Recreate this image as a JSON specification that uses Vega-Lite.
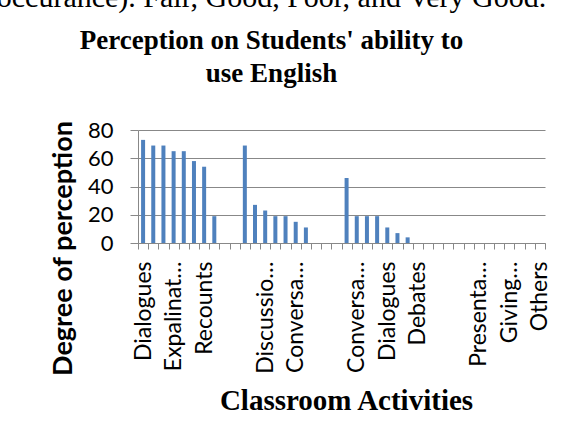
{
  "$schema": "https://vega.github.io/schema/vega-lite/v6.json",
  "autosize": "none",
  "width": 407,
  "height": 113,
  "padding": {"left": 138, "top": 130, "right": 18, "bottom": 193},
  "background": "white",
  "title": {
    "text": "occurance). Fair, Good, Poor, and Very Good.",
    "subtitle": ["Perception on Students' ability to", "use English"],
    "font": "Liberation Serif",
    "fontSize": 30,
    "fontWeight": "normal",
    "color": "black",
    "subtitleFont": "Liberation Serif",
    "subtitleFontSize": 27,
    "subtitleFontWeight": "bold",
    "subtitleColor": "black",
    "subtitleLineHeight": 33,
    "subtitlePadding": 15,
    "anchor": "middle",
    "frame": "group",
    "dx": -70,
    "offset": 32
  },
  "data": {
    "values": [
      {"item": "Fair|Dialogues", "value": 73},
      {"item": "Fair|Role plays", "value": 69},
      {"item": "Fair|Descriptions", "value": 69},
      {"item": "Fair|Expalinat…", "value": 65},
      {"item": "Fair|Narratives", "value": 65},
      {"item": "Fair|Discussions", "value": 58},
      {"item": "Fair|Recounts", "value": 54},
      {"item": "Fair|Conversations", "value": 19},
      {"item": "Fair|Debates", "value": 0},
      {"item": "Fair|", "value": 0},
      {"item": "Good|Explanations", "value": 69},
      {"item": "Good|Role plays", "value": 27},
      {"item": "Good|Discussio…", "value": 23},
      {"item": "Good|Descriptions", "value": 19},
      {"item": "Good|Recounts", "value": 19},
      {"item": "Good|Conversa…", "value": 15},
      {"item": "Good|Narratives", "value": 11},
      {"item": "Good|Dialogues", "value": 0},
      {"item": "Good|", "value": 0},
      {"item": "Good|Debates", "value": 0},
      {"item": "Poor|Discussions", "value": 46},
      {"item": "Poor|Conversa…", "value": 19},
      {"item": "Poor|Role plays", "value": 19},
      {"item": "Poor|Recounts", "value": 19},
      {"item": "Poor|Dialogues", "value": 11},
      {"item": "Poor|Narratives", "value": 7},
      {"item": "Poor|Explanations", "value": 4},
      {"item": "Poor|Debates", "value": 0},
      {"item": "Poor|Descriptions", "value": 0},
      {"item": "Poor|Others", "value": 0},
      {"item": "Very Good|", "value": 0},
      {"item": "Very Good|Dialogues", "value": 0},
      {"item": "Very Good|Role plays", "value": 0},
      {"item": "Very Good|Presenta…", "value": 0},
      {"item": "Very Good|Discussions", "value": 0},
      {"item": "Very Good|Recounts", "value": 0},
      {"item": "Very Good|Giving…", "value": 0},
      {"item": "Very Good|Debates", "value": 0},
      {"item": "Very Good|Narratives", "value": 0},
      {"item": "Very Good|Others", "value": 0}
    ]
  },
  "mark": {"type": "bar", "color": "#4F81BD", "width": 4},
  "encoding": {
    "x": {
      "field": "item",
      "type": "nominal",
      "sort": null,
      "scale": {"paddingInner": 0, "paddingOuter": 0},
      "axis": {
        "title": "Classroom Activities",
        "titleFont": "Liberation Serif",
        "titleFontSize": 29,
        "titleFontWeight": "bold",
        "titleColor": "black",
        "titleX": 208,
        "titleY": 166,
        "titleBaseline": "alphabetic",
        "titleAnchor": "middle",
        "labelExpr": "round(datum.index*39) % 3 == 0 ? split(datum.label, '|')[1] : ''",
        "labelAngle": -90,
        "labelFont": "Lato",
        "labelFontSize": 23,
        "labelColor": "black",
        "labelPadding": 12,
        "labelLimit": 200,
        "labelOverlap": false,
        "tickBand": "extent",
        "tickSize": 6,
        "tickColor": "#888888",
        "domainColor": "#888888",
        "grid": false
      }
    },
    "y": {
      "field": "value",
      "type": "quantitative",
      "scale": {"domain": [0, 80]},
      "axis": {
        "values": [0, 20, 40, 60, 80],
        "title": "Degree of perception",
        "titleFont": "Lato",
        "titleFontSize": 27,
        "titleFontWeight": "bold",
        "titleColor": "black",
        "titleAnchor": "middle",
        "titleY": 118,
        "titleX": -61,
        "labelFont": "Lato",
        "labelFontSize": 22,
        "labelColor": "black",
        "labelPadding": 17,
        "tickSize": 8,
        "tickColor": "#888888",
        "domainColor": "#888888",
        "gridColor": "#888888",
        "gridWidth": 1.2
      }
    }
  },
  "config": {"view": {"stroke": null}}
}
